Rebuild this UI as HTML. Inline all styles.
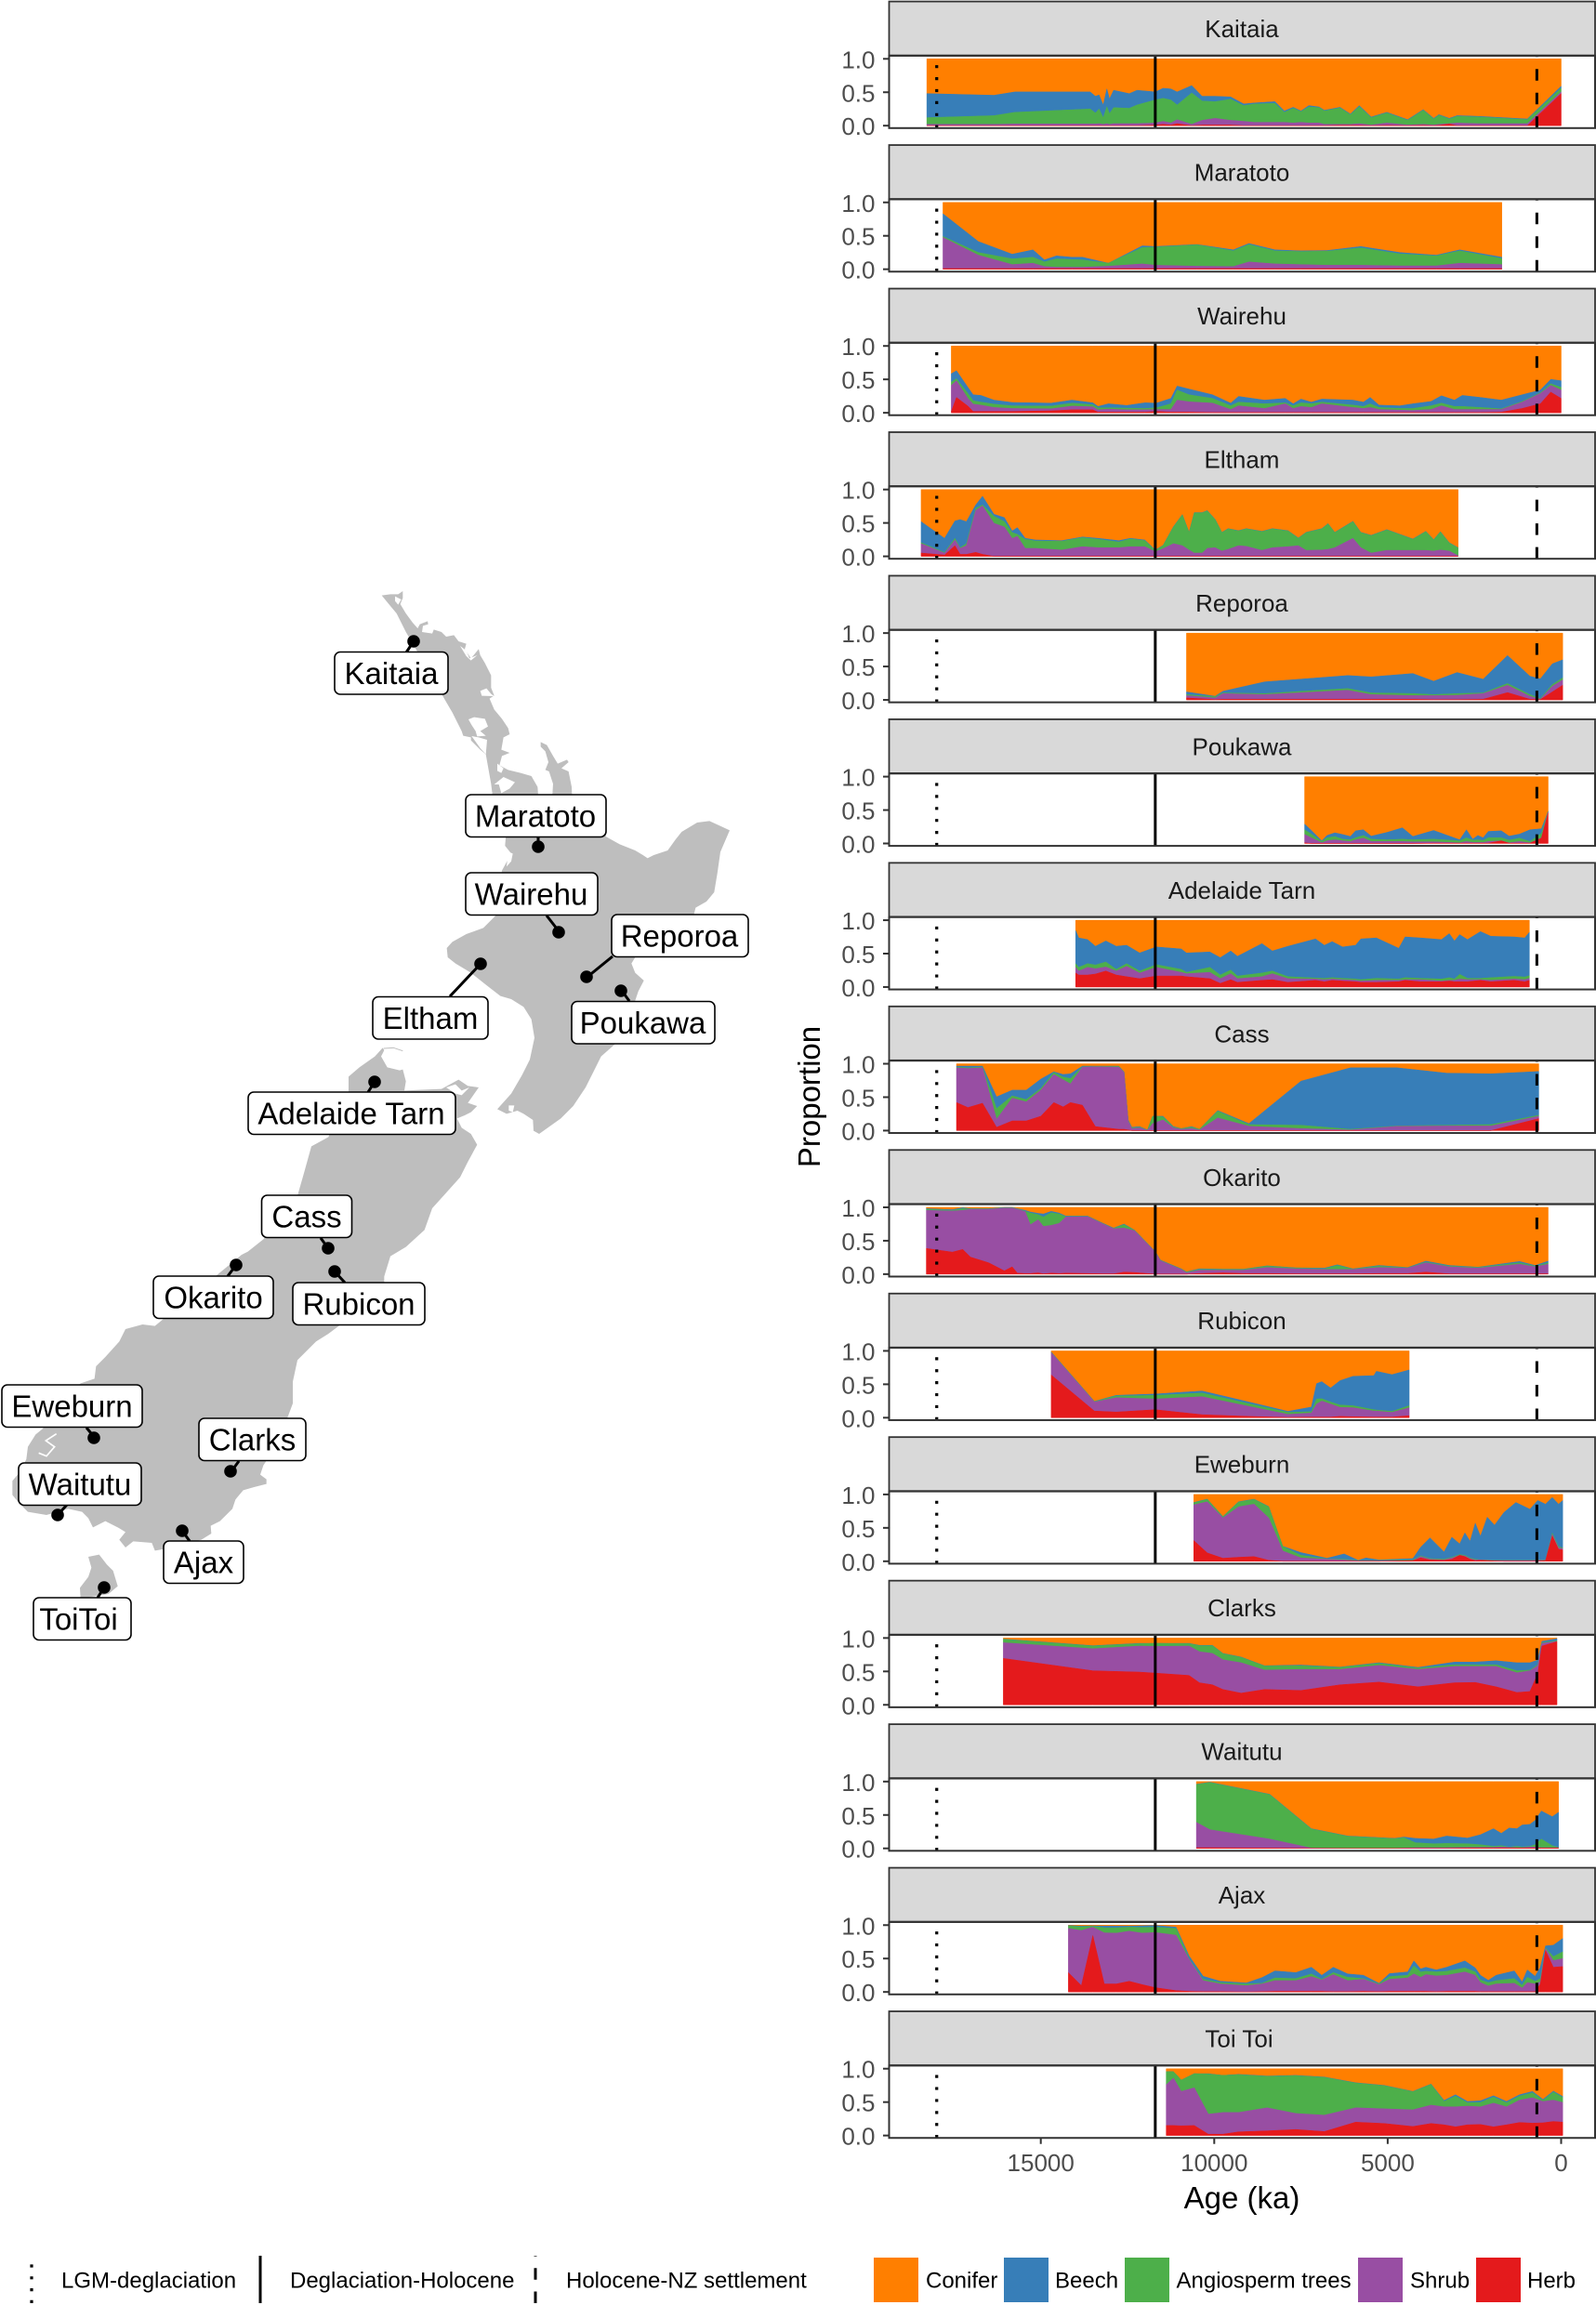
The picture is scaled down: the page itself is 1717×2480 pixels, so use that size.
<!DOCTYPE html>
<html lang="en">
<head>
<meta charset="utf-8">
<title>New Zealand pollen records</title>
<style>
html,body{margin:0;padding:0;background:#fff;}
svg{display:block;font-family:"Liberation Sans",Arial,sans-serif;}
.lab{font-size:33px;fill:#000;text-anchor:middle;}
.lgd{font-size:24px;fill:#000;}
</style>
</head>
<body>
<svg id="fig" xmlns="http://www.w3.org/2000/svg" width="1717" height="2480" viewBox="0 0 1717 2480">
<rect x="0" y="0" width="1717" height="2480" fill="#fff"/>

<g id="map">
  <g transform="translate(400,630) scale(0.33333)">
    <polygon fill="#bebebe" points="32,32 60,28 85,28 100,18 100,40 92,60 110,90 132,120 148,138 155,125 180,115 182,125 165,130 162,150 195,155 200,142 225,150 240,165 265,160 280,180 305,188 300,205 320,235 345,205 350,225 365,250 385,290 385,330 395,355 380,365 395,400 420,430 440,460 445,480 425,490 418,530 445,540 420,550 412,580 440,595 480,605 515,615 535,650 540,720 395,720 385,640 368,545 350,530 320,500 320,490 295,485 290,470 260,410 225,350 190,300 160,235 110,150 80,90 55,60"/>
    <polygon fill="#bebebe" points="545,505 565,515 585,550 600,575 630,562 635,570 612,590 635,600 645,650 648,720 580,720 585,640 572,600 560,595 570,570 560,535 545,520"/>
    <polygon fill="#fff" points="75,35 95,45 85,62 75,50"/>
    <polygon fill="#fff" points="285,195 305,210 315,235 340,225 320,242 305,228"/>
    <polygon fill="#fff" points="350,340 370,332 385,350 395,357 355,356"/>
    <polygon fill="#fff" points="312,432 330,425 365,430 375,455 350,470 368,485 340,487 335,470 322,450"/>
    <polygon fill="#fff" points="322,486 345,490 372,498 368,545 350,525"/>
    <polygon fill="#fff" points="405,575 425,590 418,605 405,598"/>
    <polygon fill="#fff" points="395,642 425,618 462,635 445,655 418,670 410,642"/>
  </g>
  <g transform="translate(470,870) scale(0.33333)">
    <polygon fill="#bebebe" points="225,60 545,60 545,90 590,115 640,135 665,150 680,160 700,150 745,135 770,100 790,75 840,45 880,40 945,70 915,140 905,210 895,270 870,300 835,320 830,340 640,480 628,500 640,530 668,555 650,590 640,620 575,760 530,800 505,850 480,900 440,960 400,1000 330,1050 312,1040 310,1005 280,985 260,975 225,985 195,970 240,920 275,860 300,810 315,740 305,680 280,640 240,615 205,605 160,570 110,530 60,500 35,480 32,450 50,430 95,405 150,385 190,345 210,200 240,145 220,120"/>
    <polygon fill="#fff" points="232,140 245,145 240,170 225,187 228,160"/>
    <polygon fill="#fff" points="232,958 250,958 245,980 232,975"/>
  </g>
  <g transform="translate(0,1400) scale(0.33333)">
    <polygon fill="#bebebe" points="1125,-675 1125,-725 1160,-755 1210,-790 1235,-818 1240,-810 1230,-790 1250,-755 1290,-745 1300,-748 1310,-710 1305,-680 1425,-685 1480,-715 1510,-695 1545,-690 1510,-640 1540,-630 1520,-610 1500,-600 1475,-590 1490,-560 1520,-540 1540,-505 1510,-450 1485,-400 1440,-350 1395,-300 1370,-230 1310,-175 1260,-145 1240,-80 1240,-40 1100,75 1060,105 1020,130 960,190 945,260 945,330 930,370 900,450 860,515 850,530 840,560 860,575 860,590 820,600 785,610 760,640 750,670 710,710 680,725 682,750 650,770 530,800 500,805 490,780 430,775 405,795 385,770 405,745 380,730 340,710 300,730 285,700 265,680 220,670 150,690 90,680 60,650 40,625 40,580 65,550 85,510 90,470 115,430 140,410 130,400 260,265 305,250 310,210 340,180 385,130 405,90 460,75 500,80 530,55 780,-150 800,-160 850,-200 960,-340 980,-410 1005,-500 1060,-530"/>
    <polyline fill="none" stroke="#bebebe" stroke-width="3" points="1238,-816 1270,-818 1300,-808"/>
    <polygon fill="#fff" points="1440,-690 1470,-700 1490,-680 1515,-690 1490,-665 1470,-670"/>
    <polyline fill="none" stroke="#fff" stroke-width="5" points="182,428 148,450 176,470 150,500 125,490"/>
    <polygon fill="#bebebe" points="285,825 320,818 345,850 365,870 380,920 350,945 260,960 258,925 285,890 295,860"/>
  </g>
  <g stroke="#000" stroke-width="3" fill="none">
    <line x1="445" y1="690" x2="437" y2="702"/>
    <line x1="579" y1="911" x2="579" y2="901"/>
    <line x1="602" y1="1003" x2="588" y2="985"/>
    <line x1="632" y1="1051" x2="659" y2="1029"/>
    <line x1="517" y1="1037" x2="484" y2="1072"/>
    <line x1="669" y1="1066" x2="677" y2="1077"/>
    <line x1="403" y1="1164" x2="396" y2="1175"/>
    <line x1="353" y1="1343" x2="345" y2="1332"/>
    <line x1="254" y1="1361" x2="245" y2="1373"/>
    <line x1="360" y1="1368" x2="371" y2="1380"/>
    <line x1="102" y1="1547" x2="93" y2="1536"/>
    <line x1="249" y1="1583" x2="257" y2="1572"/>
    <line x1="62" y1="1630" x2="72" y2="1619"/>
    <line x1="196" y1="1647" x2="204" y2="1658"/>
    <line x1="112" y1="1708" x2="105" y2="1719"/>
  </g>
  <g fill="#000">
    <circle cx="445" cy="690" r="6.8"/>
    <circle cx="579" cy="911" r="6.8"/>
    <circle cx="601" cy="1003" r="6.8"/>
    <circle cx="631" cy="1051" r="6.8"/>
    <circle cx="517" cy="1037" r="6.8"/>
    <circle cx="668" cy="1066" r="6.8"/>
    <circle cx="403" cy="1164" r="6.8"/>
    <circle cx="353" cy="1343" r="6.8"/>
    <circle cx="254" cy="1361" r="6.8"/>
    <circle cx="360" cy="1368" r="6.8"/>
    <circle cx="101" cy="1547" r="6.8"/>
    <circle cx="248" cy="1583" r="6.8"/>
    <circle cx="62" cy="1630" r="6.8"/>
    <circle cx="196" cy="1647" r="6.8"/>
    <circle cx="112" cy="1708" r="6.8"/>
  </g>
  <g>
    <g><rect x="360" y="701.5" width="122" height="45.5" rx="6" fill="#fff" stroke="#000" stroke-width="1.6"/><text class="lab" x="421" y="736">Kaitaia</text></g>
    <g><rect x="501" y="855" width="151" height="45.5" rx="6" fill="#fff" stroke="#000" stroke-width="1.6"/><text class="lab" x="576" y="889.5">Maratoto</text></g>
    <g><rect x="501" y="939" width="142" height="45.5" rx="6" fill="#fff" stroke="#000" stroke-width="1.6"/><text class="lab" x="571.5" y="973.5">Wairehu</text></g>
    <g><rect x="658" y="984" width="147" height="45.5" rx="6" fill="#fff" stroke="#000" stroke-width="1.6"/><text class="lab" x="731" y="1018.5">Reporoa</text></g>
    <g><rect x="401" y="1072.5" width="124" height="45.5" rx="6" fill="#fff" stroke="#000" stroke-width="1.6"/><text class="lab" x="463" y="1107">Eltham</text></g>
    <g><rect x="615" y="1077.5" width="154" height="45.5" rx="6" fill="#fff" stroke="#000" stroke-width="1.6"/><text class="lab" x="691.5" y="1112">Poukawa</text></g>
    <g><rect x="267" y="1175" width="223" height="45.5" rx="6" fill="#fff" stroke="#000" stroke-width="1.6"/><text class="lab" x="378" y="1209.5">Adelaide Tarn</text></g>
    <g><rect x="281.5" y="1286" width="97" height="45.5" rx="6" fill="#fff" stroke="#000" stroke-width="1.6"/><text class="lab" x="330" y="1320.5">Cass</text></g>
    <g><rect x="165" y="1373" width="129" height="45.5" rx="6" fill="#fff" stroke="#000" stroke-width="1.6"/><text class="lab" x="229.5" y="1407.5">Okarito</text></g>
    <g><rect x="315" y="1380" width="142" height="45.5" rx="6" fill="#fff" stroke="#000" stroke-width="1.6"/><text class="lab" x="386" y="1414.5">Rubicon</text></g>
    <g><rect x="2" y="1490" width="151" height="45.5" rx="6" fill="#fff" stroke="#000" stroke-width="1.6"/><text class="lab" x="77.5" y="1524.5">Eweburn</text></g>
    <g><rect x="214" y="1526" width="115" height="45.5" rx="6" fill="#fff" stroke="#000" stroke-width="1.6"/><text class="lab" x="271.5" y="1560.5">Clarks</text></g>
    <g><rect x="20" y="1574" width="132" height="45.5" rx="6" fill="#fff" stroke="#000" stroke-width="1.6"/><text class="lab" x="86" y="1608.5">Waitutu</text></g>
    <g><rect x="176" y="1658" width="86" height="45.5" rx="6" fill="#fff" stroke="#000" stroke-width="1.6"/><text class="lab" x="219" y="1692.5">Ajax</text></g>
    <g><rect x="36" y="1719" width="105" height="45.5" rx="6" fill="#fff" stroke="#000" stroke-width="1.6"/><text class="lab" x="84.5" y="1753.5">ToiToi</text></g>
  </g>
</g>

<g id="panels"></g>

<text transform="translate(882,1180) rotate(-90)" text-anchor="middle" font-size="33" fill="#000">Proportion</text>
<text x="1336" y="2376" text-anchor="middle" font-size="33" fill="#000">Age (ka)</text>

<g>
  <line x1="34" y1="2478" x2="34" y2="2427" stroke="#000" stroke-width="3.2" stroke-dasharray="3.2 9.6"/>
  <text class="lgd" x="66" y="2461.5">LGM-deglaciation</text>
  <line x1="280" y1="2478" x2="280" y2="2427" stroke="#000" stroke-width="3"/>
  <text class="lgd" x="312" y="2461.5">Deglaciation-Holocene</text>
  <line x1="576" y1="2478" x2="576" y2="2427" stroke="#000" stroke-width="3" stroke-dasharray="12.5 12.7"/>
  <text class="lgd" x="609" y="2461.5">Holocene-NZ settlement</text>
</g>
<g>
  <rect x="940" y="2429" width="48" height="48" fill="#ff7f00"/>
  <text class="lgd" x="996" y="2461.5">Conifer</text>
  <rect x="1080" y="2429" width="48" height="48" fill="#377eb8"/>
  <text class="lgd" x="1135" y="2461.5">Beech</text>
  <rect x="1210" y="2429" width="48" height="48" fill="#4daf4a"/>
  <text class="lgd" x="1265.5" y="2461.5">Angiosperm trees</text>
  <rect x="1461" y="2429" width="48" height="48" fill="#984ea3"/>
  <text class="lgd" x="1517" y="2461.5">Shrub</text>
  <rect x="1588" y="2429" width="48" height="48" fill="#e41a1c"/>
  <text class="lgd" x="1643" y="2461.5">Herb</text>
</g>
</svg>

<script>
// Tick labels and reference ages
const yTickValues = [0, 0.5, 1];
const yTickLabels = ["0.0", "0.5", "1.0"];
const xTickValues = [15000, 10000, 5000, 0];
const refLgmAge = 18000;
const refHoloceneAge = 11700;
const refSettlementAge = 700;

// Each site: sample ages and the upper edge of each stacked band (conifer fills to 1.0).
const kaitaiaAge = [18285,16350,15750,13575,13425,13320,13200,13095,13020,12900,12450,12225,11700,11475,11250,11070,10650,10350,9975,9525,9150,8850,8250,7980,7725,7500,7275,6975,6825,6375,6075,5820,5475,5025,4425,3975,3675,3525,3225,3000,2400,975,0];
const kaitaiaHerb = [0,0,0,0,0,0,0,0,0,0,0,0,.01,.02,.01,.03,0,.01,.01,.01,0,0,0,0,0,0,0,0,0,.005,.005,.005,0,.005,0,.005,0,.005,.025,0,0,0,.48];
const kaitaiaShrub = [.02,.02,.025,.025,.025,.03,.02,.03,.02,.03,.03,.03,.04,.065,.04,.09,.02,.08,.11,.08,.065,.05,.05,.05,.04,.05,.04,.04,.02,.02,.02,.03,.01,.04,.01,.02,.01,.02,.03,.04,.03,.03,.505];
const kaitaiaAngio = [.12,.15,.20,.25,.19,.25,.12,.285,.18,.27,.26,.31,.385,.41,.385,.31,.49,.37,.36,.395,.30,.325,.335,.20,.26,.21,.28,.27,.22,.265,.165,.285,.12,.19,.08,.23,.10,.155,.10,.14,.13,.09,.56];
const kaitaiaBeech = [.48,.455,.505,.505,.44,.46,.31,.55,.40,.53,.48,.53,.505,.56,.55,.505,.60,.44,.44,.43,.325,.34,.36,.22,.275,.22,.30,.28,.23,.275,.175,.30,.13,.20,.09,.24,.11,.165,.11,.15,.14,.10,.59];

const maratotoAge = [17820,16800,15825,15225,14895,14550,14100,13800,13050,12075,11700,10500,9450,9000,8250,7500,6750,5775,4650,3600,2925,1710];
const maratotoHerb = [.01,.01,.01,.01,.01,.01,.01,.01,.01,.01,.01,.01,.01,.01,.01,.01,.01,.01,.01,.01,.01,.01];
const maratotoShrub = [.475,.21,.07,.09,.04,.03,.03,.03,.045,.08,.06,.045,.04,.11,.08,.07,.06,.06,.05,.05,.09,.07];
const maratotoAngio = [.49,.25,.155,.18,.11,.155,.145,.14,.09,.325,.33,.365,.275,.37,.275,.265,.27,.32,.23,.20,.275,.16];
const maratotoBeech = [.83,.415,.225,.29,.14,.20,.18,.18,.09,.35,.34,.37,.29,.385,.29,.275,.28,.34,.25,.21,.29,.18];

const wairehuAge = [17580,17430,17100,16950,16725,16350,15825,14700,14100,13500,13350,13050,12525,12000,11670,11250,11070,10725,10050,9525,9300,8550,7950,7725,7500,7200,6900,6000,5700,5505,5250,4650,4275,3750,3450,3075,2850,2325,1725,1125,600,300,0];
const wairehuHerb = [.02,.23,.10,.02,.02,.02,.02,.03,.045,.045,.01,.01,.01,.01,.02,.01,.01,.01,.005,.005,.005,.005,.005,.005,.005,.005,.005,.005,.005,.005,.005,.005,.005,.005,.005,.005,.005,.005,.01,.065,.135,.31,.215];
const wairehuShrub = [.41,.48,.215,.13,.115,.08,.065,.06,.10,.09,.045,.055,.045,.045,.05,.05,.19,.165,.145,.05,.105,.065,.135,.065,.095,.08,.135,.08,.065,.08,.05,.04,.035,.05,.105,.05,.05,.05,.05,.16,.29,.41,.34];
const wairehuAngio = [.46,.51,.29,.18,.16,.13,.105,.10,.145,.12,.075,.075,.07,.065,.075,.135,.34,.27,.215,.105,.16,.135,.15,.105,.15,.135,.16,.115,.095,.135,.08,.065,.065,.105,.145,.095,.095,.08,.06,.17,.30,.435,.38];
const wairehuBeech = [.585,.63,.38,.27,.26,.19,.155,.145,.19,.15,.095,.135,.11,.15,.145,.215,.40,.355,.27,.145,.245,.19,.215,.135,.205,.16,.205,.19,.16,.23,.115,.105,.135,.17,.255,.19,.26,.23,.19,.27,.34,.50,.48];

const elthamAge = [18450,17775,17475,17325,17145,16875,16680,16350,16050,15825,15675,15450,15150,14400,13800,13350,12750,12420,12000,11700,11475,11175,10920,10725,10575,10350,10200,9975,9780,9600,9300,9075,8625,8325,7875,7575,7350,6900,6720,6525,6000,5775,5475,5025,4275,3900,3675,3480,3225,2970];
const elthamHerb = [.05,.02,.16,.03,.03,.06,.03,0,0,0,0,0,0,0,0,0,0,0,0,0,0,0,0,0,0,0,0,0,0,0,0,0,0,0,0,0,0,0,0,0,0,0,0,0,0,0,0,0,0,0];
const elthamShrub = [.19,.05,.245,.12,.16,.69,.755,.495,.44,.27,.30,.12,.12,.095,.145,.13,.13,.145,.145,.07,.115,.19,.16,.095,.05,.05,.12,.13,.08,.105,.16,.15,.09,.13,.145,.16,.09,.095,.105,.13,.27,.13,.05,.09,.09,.09,.08,.095,.08,.01];
const elthamAngio = [.205,.06,.27,.13,.19,.72,.77,.60,.52,.355,.33,.255,.23,.225,.28,.255,.215,.26,.235,.085,.16,.44,.62,.355,.65,.65,.68,.55,.355,.41,.38,.41,.37,.41,.38,.27,.355,.41,.485,.355,.52,.355,.31,.395,.255,.37,.245,.365,.20,.125];
const elthamBeech = [.52,.27,.53,.55,.52,.77,.90,.63,.58,.38,.43,.27,.245,.235,.29,.27,.235,.27,.245,.095,.165,.445,.625,.36,.655,.655,.685,.555,.36,.415,.385,.415,.375,.415,.385,.275,.36,.415,.49,.36,.525,.36,.315,.40,.26,.375,.25,.37,.205,.13];

const reporoaAge = [10800,9975,9750,8550,6150,5475,4275,3675,3000,2250,1545,900,600,255,-45];
const reporoaHerb = [.03,.005,.01,.01,.01,.01,.01,.005,.005,.01,.11,.01,.005,.12,.22];
const reporoaShrub = [.065,.03,.095,.08,.145,.08,.065,.065,.07,.095,.22,.055,.01,.205,.30];
const reporoaAngio = [.08,.05,.105,.095,.17,.105,.095,.08,.095,.105,.245,.08,.02,.23,.33];
const reporoaBeech = [.12,.055,.13,.27,.365,.345,.395,.28,.41,.31,.665,.355,.315,.54,.60];

const poukawaAge = [7395,7200,6900,6750,6525,6300,6075,5925,5700,5475,5025,4575,4275,3675,2925,2730,2550,2400,2250,2100,1725,1500,1200,900,570,375];
const poukawaHerb = [.01,0,0,0,0,0,0,0,0,0,0,0,0,.005,.005,.005,.005,.005,.005,.005,.04,.005,.005,.005,.08,.455];
const poukawaShrub = [.135,.085,.01,.04,.055,.04,.03,.055,.08,.03,.03,.03,.025,.025,.01,.03,.015,.015,.015,.03,.04,.01,.03,.01,.085,.47];
const poukawaAngio = [.205,.14,.03,.085,.105,.065,.055,.085,.12,.065,.055,.065,.055,.065,.04,.085,.05,.055,.045,.085,.085,.05,.08,.03,.15,.48];
const poukawaBeech = [.29,.195,.04,.12,.16,.135,.105,.19,.205,.11,.165,.235,.105,.195,.055,.205,.065,.12,.085,.18,.19,.11,.14,.205,.22,.48];

const adelaideAge = [13995,13905,13650,13425,13125,12825,12525,12150,11670,10950,10800,10125,9825,9525,9330,8625,8325,7875,7080,6825,6600,6300,5925,5775,5325,4680,4500,4050,3450,3225,3075,2925,2700,2325,2025,1350,1050,915];
const adelaideHerb = [.21,.18,.18,.195,.24,.18,.155,.125,.165,.165,.155,.125,.055,.11,.07,.10,.11,.07,.10,.08,.10,.09,.08,.07,.07,.08,.10,.08,.08,.09,.08,.08,.08,.10,.08,.10,.08,.10];
const adelaideShrub = [.295,.24,.295,.275,.30,.24,.31,.21,.295,.22,.20,.22,.125,.20,.125,.155,.20,.125,.12,.11,.12,.11,.10,.09,.10,.10,.11,.11,.09,.10,.10,.12,.11,.11,.10,.12,.11,.13];
const adelaideAngio = [.35,.295,.35,.33,.375,.265,.35,.24,.335,.265,.22,.295,.18,.255,.165,.21,.24,.155,.135,.13,.14,.13,.12,.11,.13,.12,.14,.13,.12,.14,.12,.19,.13,.13,.14,.16,.15,.17];
const adelaideBeech = [.845,.735,.71,.61,.69,.61,.625,.51,.60,.57,.51,.525,.44,.54,.46,.65,.54,.61,.72,.625,.68,.60,.625,.72,.735,.58,.75,.735,.71,.80,.69,.785,.71,.83,.76,.75,.735,.82];

const cassAge = [17430,17100,16680,16275,15825,15420,15000,14625,14355,14145,13800,13425,12750,12600,12480,12375,12150,11925,11775,11475,11175,10950,10650,10425,9900,9000,7500,6075,4725,3300,2025,645];
const cassHerb = [.42,.345,.41,.05,.145,.145,.215,.42,.355,.42,.38,.06,.02,.02,.01,0,0,0,0,0,0,0,0,0,0,0,0,0,0,0,0,.18];
const cassShrub = [.94,.93,.94,.17,.485,.43,.605,.84,.76,.70,.95,.955,.95,.87,.14,.03,.04,.005,.105,.16,.04,.02,.03,.01,.19,.065,.03,.01,.065,.07,.07,.215];
const cassAngio = [.95,.94,.95,.33,.52,.465,.63,.87,.80,.78,.955,.96,.96,.875,.15,.04,.05,.01,.215,.205,.05,.03,.05,.02,.29,.09,.08,.02,.07,.08,.09,.23];
const cassBeech = [.965,.965,.965,.505,.605,.605,.77,.88,.84,.85,.965,.965,.965,.88,.16,.05,.06,.01,.215,.215,.06,.03,.06,.02,.30,.105,.74,.94,.94,.86,.85,.885];

const okaritoAge = [18300,17550,17250,17025,16500,16050,15825,15675,15450,15300,15075,14925,14700,14475,14280,13650,13200,12900,12600,12300,11700,11550,10950,10800,10425,9750,9150,8475,7650,6825,6450,6000,5250,4425,3900,3225,2400,1200,750,375];
const okaritoHerb = [.385,.33,.37,.255,.17,.05,.11,.015,.01,.01,.02,.005,.015,.01,.015,.01,.005,.005,.03,.025,0,0,0,0,.01,.02,.01,.01,.005,.005,.005,.005,.01,.01,.03,.005,.005,.005,.005,.005];
const okaritoShrub = [.955,.945,.955,.97,.97,.99,.99,.97,.935,.74,.815,.715,.73,.76,.855,.86,.75,.68,.69,.65,.33,.20,.07,.02,.06,.06,.06,.10,.08,.07,.07,.07,.10,.09,.17,.11,.09,.15,.11,.15];
const okaritoAngio = [.97,.955,.98,.975,.975,.995,.995,.975,.94,.915,.89,.855,.92,.90,.86,.865,.755,.685,.74,.655,.335,.205,.075,.03,.07,.07,.07,.12,.09,.08,.13,.075,.12,.095,.18,.12,.10,.17,.12,.17];
const okaritoBeech = [.98,.965,.995,.98,.98,1,1,.98,.955,.93,.91,.90,.94,.915,.87,.87,.76,.69,.75,.66,.34,.21,.08,.035,.08,.075,.075,.125,.095,.09,.14,.08,.13,.10,.195,.13,.105,.19,.13,.195];

const rubiconAge = [14700,13455,12825,11700,10350,9000,7875,7200,7050,6900,6645,6375,6000,5400,5325,4875,4380];
const rubiconHerb = [.64,.10,.085,.12,.045,.02,.005,.01,.01,.01,.01,.02,.015,.01,.01,.01,.03];
const rubiconShrub = [.975,.235,.30,.28,.315,.17,.05,.07,.205,.25,.205,.155,.15,.10,.10,.08,.15];
const rubiconAngio = [.98,.24,.325,.335,.37,.21,.08,.09,.28,.285,.235,.19,.18,.12,.115,.095,.18];
const rubiconBeech = [.985,.245,.335,.355,.40,.235,.095,.16,.51,.54,.445,.555,.62,.63,.695,.645,.715];

const eweburnAge = [10590,10200,9750,9300,8850,8430,8025,7500,6750,6255,5850,5625,5250,4275,4050,3780,3375,3150,2925,2775,2625,2475,2325,2130,1920,1650,1305,900,675,450,255,75,-45];
const eweburnHerb = [.31,.125,.045,.06,.07,.015,0,0,0,0,0,0,0,.01,.05,.02,.015,.03,.09,.07,.03,.01,.015,.01,.005,0,0,0,0,.01,.38,.18,.17];
const eweburnShrub = [.845,.89,.65,.815,.855,.65,.155,.05,.03,.02,.005,.005,.005,.01,.07,.03,.02,.05,.09,.08,.04,.02,.02,.015,.01,.01,.01,.01,.015,.015,.40,.20,.19];
const eweburnAngio = [.875,.925,.665,.885,.925,.815,.22,.09,.035,.03,.01,.01,.01,.02,.08,.04,.03,.06,.10,.09,.05,.03,.02,.02,.015,.015,.015,.015,.02,.02,.42,.22,.20];
const eweburnBeech = [.88,.93,.67,.89,.93,.82,.225,.13,.045,.11,.015,.05,.02,.04,.21,.35,.14,.36,.26,.425,.30,.57,.375,.66,.54,.73,.88,.78,.91,.855,.955,.855,.91];

const clarksAge = [16080,13500,12150,11700,10725,10425,10050,9750,9225,8550,7500,6375,5250,4125,3075,2475,1875,1275,900,675,555,120];
const clarksHerb = [.695,.51,.49,.475,.44,.33,.30,.23,.175,.23,.215,.30,.34,.27,.33,.335,.27,.185,.20,.465,.88,.945];
const clarksShrub = [.93,.84,.88,.875,.88,.795,.77,.675,.63,.52,.53,.53,.59,.53,.575,.575,.575,.48,.51,.585,.92,.95];
const clarksAngio = [.98,.88,.915,.92,.915,.885,.885,.765,.71,.58,.585,.56,.62,.55,.60,.60,.60,.51,.52,.60,.93,.96];
const clarksBeech = [.985,.885,.92,.92,.92,.89,.89,.77,.715,.585,.595,.565,.63,.56,.64,.64,.66,.63,.63,.67,.95,.99];

const waitutuAge = [10515,10125,8400,7200,6150,4800,4530,4200,3675,3300,2700,2325,1950,1725,1500,1275,1125,900,750,570,255,75];
const waitutuHerb = [.01,.01,.005,0,0,0,0,0,0,0,.005,.005,.005,.005,.005,.005,.005,.005,.005,.005,.005,.005];
const waitutuShrub = [.39,.28,.14,.005,0,0,.005,.01,.01,.01,.015,.015,.015,.02,.015,.01,.01,.02,.02,.01,.01,.01];
const waitutuAngio = [.955,.985,.805,.29,.18,.145,.16,.085,.07,.075,.07,.055,.03,.04,.02,.03,.02,.03,.055,.14,.04,.015];
const waitutuBeech = [.96,.99,.81,.295,.185,.15,.17,.15,.14,.185,.155,.205,.295,.225,.305,.295,.35,.36,.42,.56,.475,.54];

const ajaxAge = [14205,13830,13500,13170,12825,12450,12075,11700,11100,10725,10320,9825,9075,8625,8250,7650,7200,6900,6570,6150,5700,5250,4950,4425,4245,4050,3900,3600,3300,2775,2475,2325,2100,1875,1350,1125,975,750,600,450,225,-45];
const ajaxHerb = [.29,.095,.845,.12,.12,.16,.11,.065,.02,.01,.005,.005,0,.005,.01,.01,.01,.01,.005,.005,.01,.005,.01,.01,.01,.01,.01,.005,.01,.01,.01,.005,.005,.005,.005,.005,.005,.005,.12,.62,.37,.38];
const ajaxShrub = [.95,.92,.97,.885,.88,.91,.88,.89,.85,.49,.17,.12,.095,.12,.17,.17,.23,.18,.26,.17,.19,.11,.19,.21,.27,.22,.26,.24,.25,.30,.25,.14,.09,.12,.13,.06,.14,.12,.15,.65,.47,.50];
const ajaxAngio = [.99,.975,.985,.96,.96,.97,.965,.97,.95,.50,.19,.14,.12,.13,.21,.20,.27,.19,.29,.22,.20,.12,.23,.25,.39,.30,.31,.30,.31,.36,.30,.18,.14,.17,.20,.10,.22,.16,.20,.66,.53,.60];
const ajaxBeech = [.995,.985,.99,.985,.985,.985,.99,.995,.97,.54,.235,.16,.135,.215,.315,.29,.37,.25,.37,.27,.25,.13,.275,.30,.465,.345,.37,.33,.37,.465,.36,.25,.175,.25,.315,.15,.33,.235,.37,.69,.70,.80];

const toitoiAge = [11385,11175,10950,10575,10170,9750,9300,8475,7650,6825,5925,5100,4275,3750,3375,3045,2700,2325,1950,1575,1200,825,525,225,-45];
const toitoiHerb = [.15,.15,.145,.15,.02,.02,.055,.07,.09,.06,.20,.18,.135,.18,.16,.13,.16,.165,.13,.16,.195,.185,.19,.21,.20];
const toitoiShrub = [.76,.86,.66,.715,.32,.345,.345,.415,.33,.305,.415,.40,.385,.455,.43,.43,.44,.43,.485,.43,.53,.565,.51,.53,.495];
const toitoiAngio = [.955,.955,.83,.925,.92,.90,.91,.885,.895,.87,.785,.745,.655,.765,.51,.59,.49,.495,.575,.49,.59,.64,.525,.65,.57];
const toitoiBeech = [.955,.955,.83,.925,.925,.90,.915,.89,.90,.875,.79,.75,.66,.77,.525,.61,.51,.52,.595,.51,.61,.66,.54,.665,.585];

const siteNames = ["Kaitaia","Maratoto","Wairehu","Eltham","Reporoa","Poukawa","Adelaide Tarn","Cass","Okarito","Rubicon","Eweburn","Clarks","Waitutu","Ajax","Toi Toi"];
const siteAges = [kaitaiaAge,maratotoAge,wairehuAge,elthamAge,reporoaAge,poukawaAge,adelaideAge,cassAge,okaritoAge,rubiconAge,eweburnAge,clarksAge,waitutuAge,ajaxAge,toitoiAge];
const siteHerb = [kaitaiaHerb,maratotoHerb,wairehuHerb,elthamHerb,reporoaHerb,poukawaHerb,adelaideHerb,cassHerb,okaritoHerb,rubiconHerb,eweburnHerb,clarksHerb,waitutuHerb,ajaxHerb,toitoiHerb];
const siteShrub = [kaitaiaShrub,maratotoShrub,wairehuShrub,elthamShrub,reporoaShrub,poukawaShrub,adelaideShrub,cassShrub,okaritoShrub,rubiconShrub,eweburnShrub,clarksShrub,waitutuShrub,ajaxShrub,toitoiShrub];
const siteAngio = [kaitaiaAngio,maratotoAngio,wairehuAngio,elthamAngio,reporoaAngio,poukawaAngio,adelaideAngio,cassAngio,okaritoAngio,rubiconAngio,eweburnAngio,clarksAngio,waitutuAngio,ajaxAngio,toitoiAngio];
const siteBeech = [kaitaiaBeech,maratotoBeech,wairehuBeech,elthamBeech,reporoaBeech,poukawaBeech,adelaideBeech,cassBeech,okaritoBeech,rubiconBeech,eweburnBeech,clarksBeech,waitutuBeech,ajaxBeech,toitoiBeech];

const NS = "http://www.w3.org/2000/svg";
const panelStep = 154.46;
const panelsRoot = document.getElementById("panels");

function xScale(age) { return 1679.5 - age * 0.03732; }
function yScale(panel, value) { return 135.2 + panel * panelStep - value * 71.9; }
function make(tag, parent, attrs) {
  const el = document.createElementNS(NS, tag);
  for (const key in attrs) el.setAttribute(key, attrs[key]);
  parent.appendChild(el);
  return el;
}
function bandPath(panel, ages, lower, upper) {
  const n = ages.length;
  let d = "";
  for (let k = 0; k < n; k++) {
    const u = upper ? upper[k] : 1;
    d += (k ? "L" : "M") + xScale(ages[k]).toFixed(2) + " " + yScale(panel, u).toFixed(2);
  }
  for (let k = n - 1; k >= 0; k--) {
    const l = lower ? lower[k] : 0;
    d += "L" + xScale(ages[k]).toFixed(2) + " " + yScale(panel, l).toFixed(2);
  }
  return d + "Z";
}

siteNames.forEach(function (name, i) {
  const slug = name.toLowerCase().replace(/\s+/g, "-");
  const stripTop = 1.6 + i * panelStep;
  const panelTop = 60 + i * panelStep;
  const panelBottom = 137.8 + i * panelStep;

  const group = make("g", panelsRoot, {});
  
  

  const strip = make("rect", group, { x: 956.5, y: stripTop, width: 759.5, height: 58, fill: "#d9d9d9", stroke: "#333", "stroke-width": 1.8 });
  
  

  const title = make("text", group, { x: name === "Toi Toi" ? 1333 : 1336, y: stripTop + 38.5, "text-anchor": "middle", "font-size": 26, fill: "#1a1a1a" });
  title.textContent = name;
  
  

  const ages = siteAges[i];
  const herb = siteHerb[i];
  const shrub = siteShrub[i];
  const angio = siteAngio[i];
  const beech = siteBeech[i];

  const conifer = make("path", group, { d: bandPath(i, ages, beech, null), fill: "#ff7f00", stroke: "#ff7f00", "stroke-width": 0.5 });
  
  

  const beechArea = make("path", group, { d: bandPath(i, ages, angio, beech), fill: "#377eb8", stroke: "#377eb8", "stroke-width": 0.5 });
  
  

  const angioArea = make("path", group, { d: bandPath(i, ages, shrub, angio), fill: "#4daf4a", stroke: "#4daf4a", "stroke-width": 0.5 });
  
  

  const shrubArea = make("path", group, { d: bandPath(i, ages, herb, shrub), fill: "#984ea3", stroke: "#984ea3", "stroke-width": 0.5 });
  
  

  const herbArea = make("path", group, { d: bandPath(i, ages, null, herb), fill: "#e41a1c", stroke: "#e41a1c", "stroke-width": 0.5 });
  
  

  const dotted = make("line", group, { x1: xScale(refLgmAge), x2: xScale(refLgmAge), y1: panelBottom, y2: panelTop, stroke: "#000", "stroke-width": 3.2, "stroke-dasharray": "3.2 9.7" });
  
  

  const solid = make("line", group, { x1: xScale(refHoloceneAge), x2: xScale(refHoloceneAge), y1: panelBottom, y2: panelTop, stroke: "#000", "stroke-width": 3 });
  
  

  const dashed = make("line", group, { x1: xScale(refSettlementAge), x2: xScale(refSettlementAge), y1: panelBottom, y2: panelTop, stroke: "#000", "stroke-width": 3, "stroke-dasharray": "12.5 13" });
  
  

  const frame = make("rect", group, { x: 956.5, y: panelTop, width: 759.5, height: panelBottom - panelTop, fill: "none", stroke: "#333", "stroke-width": 2 });
  
  

  yTickValues.forEach(function (v, t) {
    const tick = make("line", group, { x1: 950, x2: 956.5, y1: yScale(i, v), y2: yScale(i, v), stroke: "#333", "stroke-width": 2 });
    
    
    const label = make("text", group, { x: 941.5, y: yScale(i, v) + 10, "text-anchor": "end", "font-size": 26, fill: "#4d4d4d" });
    label.textContent = yTickLabels[t];
    
    
  });
});

xTickValues.forEach(function (age) {
  const axisY = 137.8 + 14 * panelStep;
  const tick = make("line", panelsRoot, { x1: xScale(age), x2: xScale(age), y1: axisY, y2: axisY + 6.5, stroke: "#333", "stroke-width": 2 });
  
  
  const label = make("text", panelsRoot, { x: xScale(age), y: axisY + 36, "text-anchor": "middle", "font-size": 26, fill: "#4d4d4d" });
  label.textContent = String(age);
  
  
});
</script>
</body>
</html>
